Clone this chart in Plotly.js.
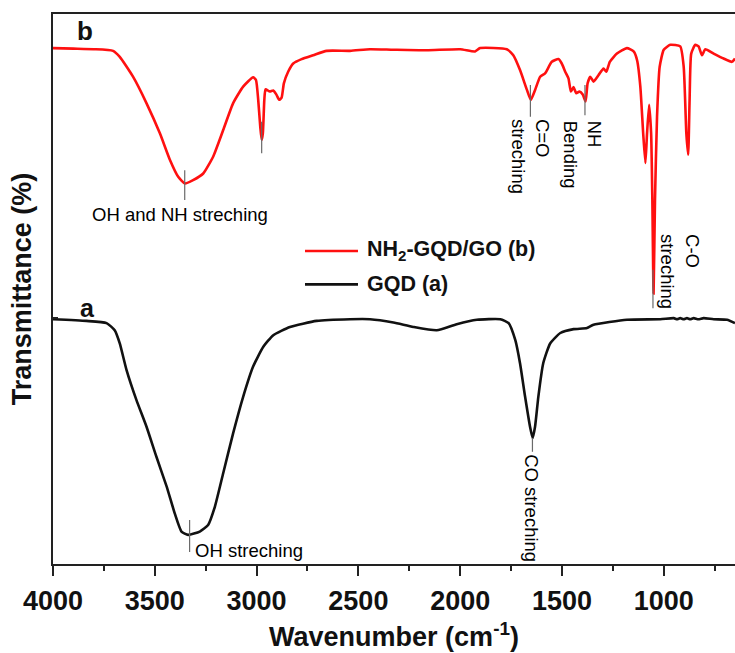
<!DOCTYPE html>
<html>
<head>
<meta charset="utf-8">
<script src="https://cdn.plot.ly/plotly-3.0.1.min.js"></script>
<style>html,body{margin:0;padding:0;background:#fff;}#chart{width:735px;height:653px;}</style>
</head>
<body>
<div id="chart"></div>
<script>
// ---- Data ----
const wavenumberB = [4000, 3900, 3800, 3705, 3672, 3607, 3541, 3475, 3426, 3385, 3352, 3312, 3262, 3213, 3164, 3115, 3066, 3017, 3003, 2992, 2982, 2975, 2969, 2962, 2956, 2935, 2918, 2902, 2889, 2877, 2866, 2845, 2820, 2779, 2722, 2656, 2541, 2443, 2328, 2164, 2000, 1927, 1902, 1771, 1739, 1706, 1672, 1653, 1632, 1607, 1583, 1550, 1517, 1501, 1484, 1468, 1456, 1443, 1430, 1414, 1397, 1384, 1374, 1361, 1345, 1320, 1296, 1282, 1265, 1230, 1181, 1148, 1131, 1115, 1101, 1090, 1082, 1072, 1062, 1056, 1050, 1043, 1033, 1020, 1000, 968, 919, 902, 889, 880, 873, 865, 845, 829, 812, 796, 755, 706, 665, 650];
const transB = [93.8, 93.7, 93.6, 93.3, 92.2, 88.6, 83.8, 78.3, 73.5, 70.4, 69.2, 69.8, 71.0, 74.1, 78.9, 83.8, 86.8, 88.5, 88.0, 84.4, 79.5, 77.1, 78.4, 84.4, 86.3, 85.9, 86.1, 85.3, 84.4, 84.8, 87.4, 89.5, 91.0, 91.8, 92.5, 93.3, 93.3, 93.6, 93.5, 93.4, 93.6, 93.2, 93.8, 93.6, 92.5, 89.8, 86.2, 84.4, 86.2, 88.6, 89.2, 91.3, 91.8, 91.0, 89.5, 88.3, 85.9, 86.7, 85.6, 85.9, 85.3, 84.1, 87.4, 88.6, 87.7, 88.9, 90.1, 89.5, 91.3, 92.8, 93.8, 93.2, 91.6, 86.8, 78.3, 72.9, 78.3, 83.5, 78.3, 66.2, 49.2, 66.2, 81.3, 90.4, 93.5, 94.4, 94.1, 90.4, 78.3, 74.4, 84.4, 92.8, 94.4, 94.1, 92.5, 93.6, 92.8, 91.9, 91.3, 91.9];

const wavenumberA = [4000, 3836, 3737, 3697, 3672, 3639, 3590, 3541, 3492, 3442, 3402, 3369, 3336, 3279, 3238, 3205, 3164, 3115, 3066, 3017, 2967, 2918, 2836, 2705, 2541, 2443, 2328, 2230, 2115, 2017, 1918, 1803, 1762, 1729, 1706, 1681, 1657, 1644, 1632, 1616, 1592, 1558, 1508, 1443, 1377, 1345, 1181, 1017, 951, 935, 919, 902, 886, 870, 853, 830, 804, 755, 689, 650];
const transA = [44.5, 44.2, 43.8, 42.5, 40.1, 35.3, 29.8, 25.0, 19.5, 14.1, 9.2, 5.9, 5.3, 5.9, 7.1, 10.4, 16.5, 23.8, 30.4, 35.9, 39.5, 41.6, 43.1, 44.2, 44.5, 44.5, 43.9, 43.1, 42.5, 43.6, 44.4, 44.5, 43.8, 40.7, 36.5, 30.4, 25.0, 22.9, 25.0, 30.4, 36.5, 40.1, 42.0, 42.7, 42.9, 43.5, 44.4, 44.5, 44.7, 44.5, 44.7, 44.5, 44.7, 44.5, 44.7, 44.5, 44.7, 44.5, 44.4, 43.8];

const seriesNames = ["NH<sub>2</sub>-GQD/GO (b)", "GQD (a)"];
const xTickVals = [4000, 3500, 3000, 2500, 2000, 1500, 1000];
const xTickText = ["4000", "3500", "3000", "2500", "2000", "1500", "1000"];

// peak marker lines: wavenumber, top, bottom (transmittance)
const peakWn  = [3353, 2975, 1655, 1387, 1053, 1645, 3329];
const peakTop = [71.6, 80.4, 87.1, 87.1, 53.5, 22.9, 8.0];
const peakBot = [66.2, 74.7, 81.3, 81.6, 46.5, 20.4, 2.2];

// peak labels
const labelText  = ["OH and NH streching", "C=O<br>streching", "NH<br>Bending", "C-O<br>streching", "CO streching", "OH streching"];
const labelWn    = [3378, 1655, 1395, 919, 1649, 3314];
const labelT     = [63.5, 81.3, 80.9, 60.4, 20.4, 2.4];
const labelAngle = [0, 90, 90, 90, 90, 0];

const FONT = "Liberation Sans, Arial, Helvetica, sans-serif";

const traces = [
  {x: wavenumberB, y: transB, type: "scatter", mode: "lines", name: seriesNames[0],
   line: {color: "#ff1010", width: 2.6, shape: "spline", smoothing: 0.5}, showlegend: false},
  {x: wavenumberA, y: transA, type: "scatter", mode: "lines", name: seriesNames[1],
   line: {color: "#111111", width: 2.6, shape: "spline", smoothing: 0.5}, showlegend: false}
];

const shapes = peakWn.map((w, i) => ({
  type: "line", xref: "x", yref: "y", x0: w, x1: w, y0: peakBot[i], y1: peakTop[i],
  line: {color: "#6a6a6a", width: 1.2}
}));
// manual legend lines
shapes.push({type: "line", xref: "paper", yref: "paper", x0: 0.3695, x1: 0.4472, y0: 0.5691, y1: 0.5691, line: {color: "#ff1010", width: 2.6}});
shapes.push({type: "line", xref: "paper", yref: "paper", x0: 0.3695, x1: 0.4472, y0: 0.5085, y1: 0.5085, line: {color: "#111111", width: 2.6}});

const annotations = labelText.map((t, i) => {
  const rot = labelAngle[i] !== 0;
  let xa = "center";
  if (i === 5) xa = "left";
  return {
    x: labelWn[i], y: labelT[i], xref: "x", yref: "y", text: t, showarrow: false,
    textangle: labelAngle[i], align: "left",
    xanchor: xa, yanchor: rot ? "top" : "middle",
    font: {family: FONT, size: 18.5, color: "#000"}
  };
});
// curve letters
annotations.push({x: 3844, y: 96.9, xref: "x", yref: "y", text: "b", showarrow: false,
  xanchor: "center", yanchor: "middle", font: {family: FONT, size: 26, color: "#111", weight: "bold"}});
annotations.push({x: 3829, y: 46.5, xref: "x", yref: "y", text: "a", showarrow: false,
  xanchor: "center", yanchor: "middle", font: {family: FONT, size: 25, color: "#111", weight: "bold"}});
// legend texts
annotations.push({x: 0.4575, y: 0.5691, xref: "paper", yref: "paper", text: seriesNames[0], showarrow: false,
  xanchor: "left", yanchor: "middle", font: {family: FONT, size: 21.5, color: "#111", weight: "bold"}});
annotations.push({x: 0.4575, y: 0.5085, xref: "paper", yref: "paper", text: seriesNames[1], showarrow: false,
  xanchor: "left", yanchor: "middle", font: {family: FONT, size: 21.5, color: "#111", weight: "bold"}});

const layout = {
  width: 735, height: 653,
  margin: {l: 53, r: 0, t: 14, b: 89, pad: 0},
  paper_bgcolor: "#ffffff", plot_bgcolor: "#ffffff",
  showlegend: false,
  xaxis: {
    range: [4000, 650], showgrid: false, zeroline: false,
    showline: true, linecolor: "#222", linewidth: 2, mirror: true,
    tickmode: "array", tickvals: xTickVals, ticktext: xTickText,
    ticks: "outside", ticklen: 10, tickwidth: 2, tickcolor: "#222",
    minor: {dtick: 250, tick0: 0, ticks: "outside", ticklen: 5, tickwidth: 2, tickcolor: "#222", showgrid: false},
    tickfont: {family: FONT, size: 27, color: "#111", weight: "bold"},
    ticklabelstandoff: 2,
    title: {text: "Wavenumber (cm<sup>-1</sup>)", standoff: 12,
            font: {family: FONT, size: 27, color: "#111", weight: "bold"}},
    automargin: false
  },
  yaxis: {
    range: [0, 100], showgrid: false, zeroline: false,
    showline: true, linecolor: "#222", linewidth: 2, mirror: false,
    tickmode: "array", tickvals: [44.7], ticks: "inside", ticklen: 5, tickwidth: 2, tickcolor: "#222",
    showticklabels: false,
    title: {text: "Transmittance (%)", standoff: 12,
            font: {family: FONT, size: 27, color: "#111", weight: "bold"}},
    automargin: false
  },
  shapes: shapes,
  annotations: annotations
};

Plotly.newPlot("chart", traces, layout, {displayModeBar: false, staticPlot: true});
</script>
</body>
</html>
